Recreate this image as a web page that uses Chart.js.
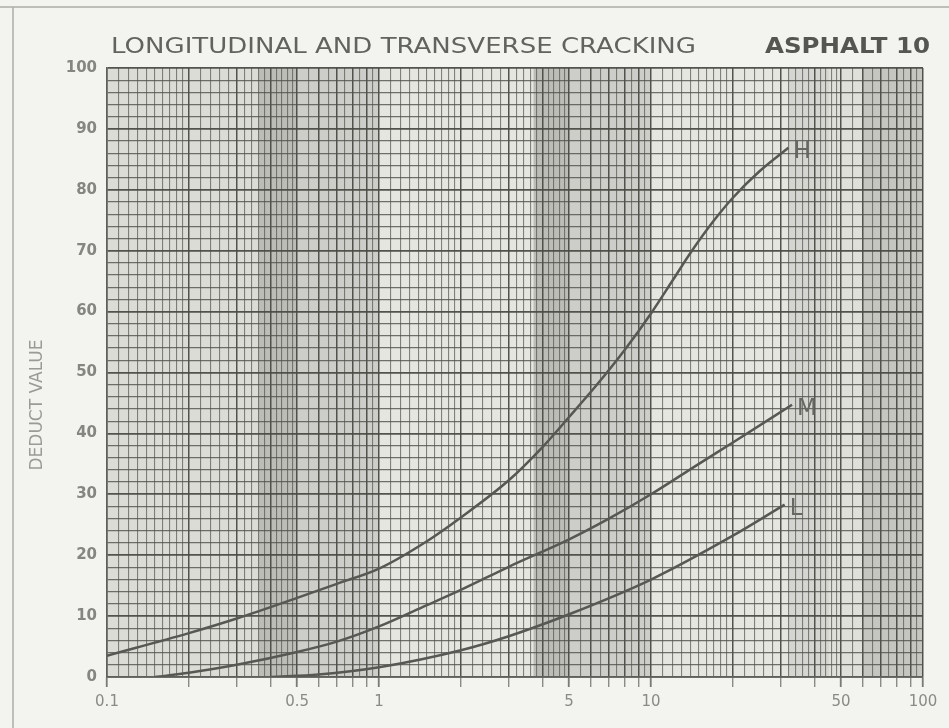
<!DOCTYPE html>
<html>
<head>
<meta charset="utf-8">
<script src="https://cdn.jsdelivr.net/npm/chart.js@4/dist/chart.umd.min.js"></script>
<style>
  html, body { margin: 0; padding: 0; background: #f3f3ef; }
  #wrap { width: 949px; height: 728px; }
</style>
</head>
<body>
<div id="wrap"><canvas id="chart" width="949" height="728"></canvas></div>
<script>
// curves (x = density, log scale; y = deduct value)
const hX = [0.1, 0.2, 0.3, 0.5, 0.7, 1, 1.5, 2, 3, 4, 5, 6.3, 8, 10, 12, 14, 17, 20, 25, 32];
const hY = [3.5, 7.2, 9.6, 13, 15.3, 17.8, 22.3, 26.2, 32.3, 37.8, 42.7, 47.9, 53.7, 59.7, 65.1, 69.7, 74.9, 78.7, 83, 86.9];

const mX = [0.15, 0.2, 0.3, 0.5, 0.7, 1, 1.5, 2, 3, 5, 7, 10, 15, 20, 33];
const mY = [0, 0.7, 2, 4.1, 5.8, 8.3, 11.8, 14.3, 18.1, 22.6, 26, 30, 35, 38.5, 44.7];

const lX = [0.4, 0.6, 1, 2, 3, 5, 10, 20, 31];
const lY = [0, 0.4, 1.6, 4.4, 6.7, 10.3, 16, 23.2, 28.3];

const curveNames = ["H", "M", "L"];

const xLabels = [0.1, 0.5, 1, 5, 10, 50, 100];
const yLabels = [0, 10, 20, 30, 40, 50, 60, 70, 80, 90, 100];

// shaded photocopy bands [from, to, alpha]
const bands = [[0.1, 0.36, 0.06], [0.36, 0.5, 0.26], [0.5, 1, 0.15], [3.7, 5, 0.26], [5, 10, 0.15], [32, 45, 0.1], [45, 60, 0.04], [60, 100, 0.2]];

const ink = "#575754";

// log paper vertical lines
const gridX = [];
[0.1, 1, 10].forEach(d => {
  for (let i = 10; i < 20; i++) gridX.push(d * i / 10);
  for (let i = 20; i < 50; i += 2) gridX.push(d * i / 10);
  for (let i = 50; i < 100; i += 5) gridX.push(d * i / 10);
});
gridX.push(100);

function isMajor(v) {
  const d = Math.pow(10, Math.floor(Math.log10(v) + 1e-9));
  const r = v / d;
  return Math.abs(r - Math.round(r)) < 1e-6;
}
function isLabel(v) {
  return xLabels.some(l => Math.abs(l - v) < 1e-9 * Math.max(1, l));
}

function pts(xs, ys) {
  return xs.map((x, i) => ({ x: x, y: ys[i] }));
}

const paper = {
  id: "paper",
  beforeDraw(chart) {
    const { ctx, chartArea: a, scales } = chart;
    ctx.save();
    ctx.fillStyle = "#e6e6e1";
    ctx.fillRect(a.left, a.top, a.right - a.left, a.bottom - a.top);
    bands.forEach(b => {
      const x1 = scales.x.getPixelForValue(b[0]);
      const x2 = scales.x.getPixelForValue(b[1]);
      ctx.fillStyle = "rgba(70,72,65," + b[2] + ")";
      ctx.fillRect(x1, a.top, x2 - x1, a.bottom - a.top);
    });
    // page edges of the copy
    ctx.strokeStyle = "rgba(90,90,85,0.45)";
    ctx.lineWidth = 1.5;
    ctx.beginPath();
    ctx.moveTo(0, 7); ctx.lineTo(949, 7);
    ctx.moveTo(13, 7); ctx.lineTo(13, 728);
    ctx.stroke();
    ctx.restore();
  },
  afterDraw(chart) {
    const { ctx, chartArea: a } = chart;
    ctx.save();
    ctx.textBaseline = "middle";
    // title, fitted to width
    ctx.fillStyle = "#62625e";
    ctx.font = "22px 'DejaVu Sans'";
    let t = "LONGITUDINAL AND TRANSVERSE CRACKING";
    let w = ctx.measureText(t).width;
    ctx.save();
    ctx.translate(a.left + 4, 47);
    ctx.scale(585 / w, 1);
    ctx.textAlign = "left";
    ctx.fillText(t, 0, 0);
    ctx.restore();

    ctx.fillStyle = "#555552";
    ctx.font = "bold 22px 'DejaVu Sans'";
    t = "ASPHALT 10";
    w = ctx.measureText(t).width;
    ctx.save();
    ctx.translate(765, 47);
    ctx.scale(165 / w, 1);
    ctx.fillText(t, 0, 0);
    ctx.restore();

    // y axis title
    ctx.save();
    ctx.fillStyle = "#9a9a96";
    ctx.font = "17px 'DejaVu Sans'";
    ctx.translate(38, 405);
    ctx.rotate(-Math.PI / 2);
    ctx.textAlign = "center";
    ctx.fillText("DEDUCT VALUE", 0, 0);
    ctx.restore();

    // curve names at curve ends
    ctx.fillStyle = "#666662";
    ctx.font = "23px 'DejaVu Sans'";
    ctx.textAlign = "left";
    chart.data.datasets.forEach((ds, i) => {
      const meta = chart.getDatasetMeta(i);
      const p = meta.data[meta.data.length - 1];
      ctx.fillText(curveNames[i], p.x + 5, p.y + 4);
    });
    ctx.restore();
  }
};

const lineStyle = {
  borderColor: ink,
  borderWidth: 2.5,
  pointRadius: 0,
  fill: false,
  cubicInterpolationMode: "monotone"
};

new Chart(document.getElementById("chart"), {
  type: "line",
  data: {
    datasets: [
      { label: "H", data: pts(hX, hY), ...lineStyle },
      { label: "M", data: pts(mX, mY), ...lineStyle },
      { label: "L", data: pts(lX, lY), ...lineStyle }
    ]
  },
  options: {
    responsive: false,
    animation: false,
    layout: { padding: { top: 68, right: 26, left: 0, bottom: 0 } },
    plugins: { legend: { display: false }, tooltip: { enabled: false } },
    scales: {
      x: {
        type: "logarithmic",
        min: 0.1,
        max: 100,
        afterFit(s) { s.height = 51; },
        afterBuildTicks(s) { s.ticks = gridX.map(v => ({ value: v })); },
        border: { color: "#5f5f5b", width: 1.5 },
        grid: {
          color: c => isMajor(c.tick.value) ? "rgba(75,75,70,0.95)" : "rgba(85,85,80,0.7)",
          lineWidth: c => isMajor(c.tick.value) ? 1.5 : 1.1,
          tickLength: 10,
          tickColor: c => isMajor(c.tick.value) ? "rgba(90,90,86,0.8)" : "rgba(0,0,0,0)",
          tickWidth: c => isLabel(c.tick.value) ? 1.8 : 1.2
        },
        ticks: {
          autoSkip: false,
          maxRotation: 0,
          padding: 6,
          color: "#8a8a86",
          font: { family: "DejaVu Sans", size: 15 },
          callback: v => isLabel(v) ? String(v) : ""
        }
      },
      y: {
        min: 0,
        max: 100,
        afterFit(s) { s.width = 107; },
        afterBuildTicks(s) {
          const t = [];
          for (let v = 0; v <= 100; v += 2) t.push({ value: v });
          s.ticks = t;
        },
        border: { color: "#5f5f5b", width: 1.5 },
        grid: {
          color: c => c.tick.value % 10 === 0 ? "rgba(75,75,70,0.95)" : "rgba(80,80,76,0.8)",
          lineWidth: c => c.tick.value % 10 === 0 ? 1.8 : 1.3,
          drawTicks: false
        },
        ticks: {
          autoSkip: false,
          padding: 10,
          color: "#858581",
          font: { family: "DejaVu Sans", size: 15, weight: "bold" },
          callback: v => yLabels.includes(v) ? String(v) : ""
        }
      }
    }
  },
  plugins: [paper]
});
</script>
</body>
</html>
